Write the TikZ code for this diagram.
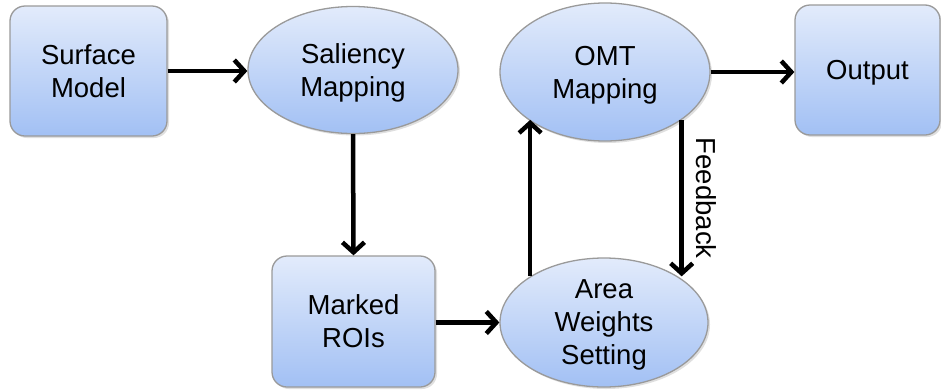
\documentclass[tikz,border=0pt]{standalone}
\usepackage{fontspec}
\setmainfont{Liberation Sans}
\usetikzlibrary{shapes.geometric,arrows.meta,shadows}
\definecolor{boxtop}{HTML}{E2EBFB}
\definecolor{boxbot}{HTML}{A2C0F4}
\definecolor{boxline}{HTML}{9A9A9A}
\tikzset{
  txt/.style={font=\fontsize{27.5}{33}\selectfont},
  base/.style={draw=boxline, line width=1.3pt, top color=boxtop, bottom color=boxbot,
    align=center, txt, inner sep=0pt, text depth=0pt,
    drop shadow={shadow xshift=2pt, shadow yshift=-2pt, opacity=0.25}},
  block/.style={base, rectangle, rounded corners=15pt},
  oval/.style={base, ellipse},
  arr/.style={line width=4.5pt, -{Straight Barb[length=10pt,width=22pt]}},
}
\begin{document}
\begin{tikzpicture}[x=1pt,y=-1pt]
\useasboundingbox (0,0) rectangle (941,389);
\node[block, minimum width=157pt, minimum height=130pt] (sm) at (88.5,71) {Surface\\Model};
\node[oval, minimum width=210pt, minimum height=127pt] (sal) at (353,70) {Saliency\\Mapping};
\node[oval, minimum width=210pt, minimum height=138pt] (omt) at (605,72) {OMT\\Mapping};
\node[block, minimum width=145pt, minimum height=130pt] (out) at (867.5,70) {Output};
\node[block, minimum width=163pt, minimum height=131pt] (roi) at (353.5,321.5) {Marked\\ROIs};
\node[oval, minimum width=208pt, minimum height=129pt] (aws) at (604,322.5) {Area\\Weights\\Setting};

\draw[arr] (sm.east) -- (sm.east -| sal.west);
\draw[arr] (omt.east) -- (out.west |- omt.east);
\draw[arr] (sal.south) -- (roi.north);
\draw[arr] (roi.east |- aws.west) -- (aws.west);
\draw[arr] (aws.148) -- (aws.148 |- omt.212);
\draw[arr] (omt.328) -- (omt.328 |- aws.32)
  node[midway, xshift=25pt, rotate=-90, txt] (fb) {Feedback};
\end{tikzpicture}
\end{document}
